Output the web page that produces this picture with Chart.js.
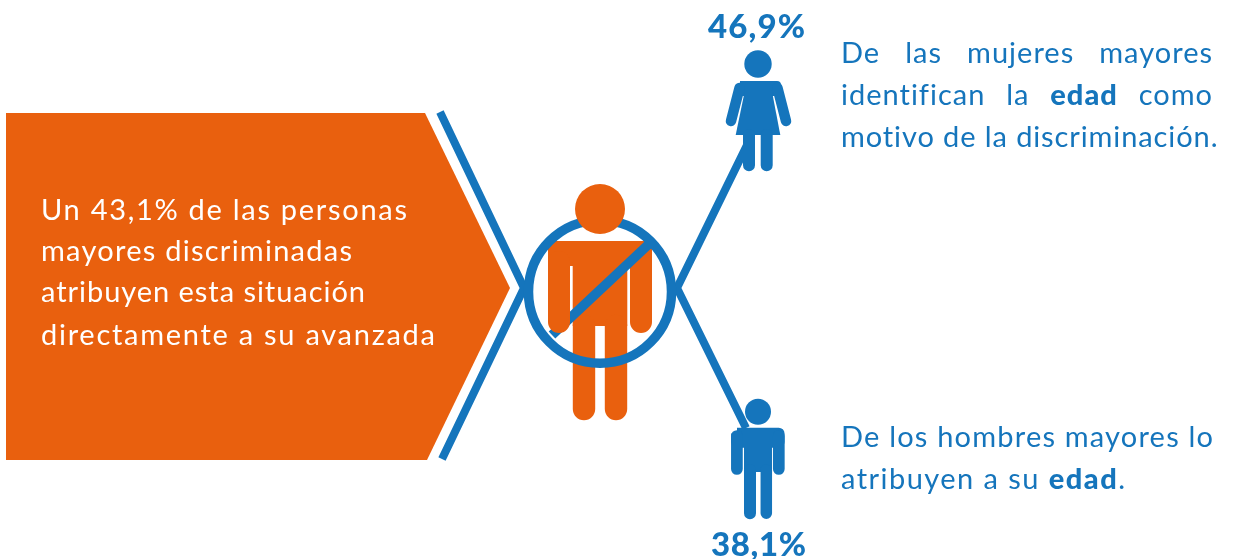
<!DOCTYPE html>
<html lang="es">
<head>
<meta charset="utf-8">
<title>Discriminación por edad</title>
<script src="https://cdn.jsdelivr.net/npm/chart.js@4"></script>
<style>
html,body{margin:0;padding:0;background:#fff;overflow:hidden}
#wrap{position:relative;width:1233px;height:559px}
#c{position:absolute;left:0;top:0}
.t{position:absolute;font-family:Lato,sans-serif;white-space:nowrap;font-size:29px;line-height:42px;height:42px}
.j{white-space:normal;text-align:justify;text-align-last:justify;letter-spacing:1px}
b{font-weight:900}
.p{font-weight:900;font-size:33px}
</style>
</head>
<body>
<div id="wrap"><canvas id="c" width="1233" height="559"></canvas></div>
<script>
// ---- data
const shareAll = 43.1;
const shareWomen = 46.9;
const shareMen = 38.1;
const pct = v => v.toFixed(1).replace('.', ',') + '%';

const leftLines = ['Un ' + pct(shareAll) + ' de las personas', 'mayores discriminadas', 'atribuyen esta situación', 'directamente a su avanzada'];
const womenLines = ['De las mujeres mayores', 'identifican la <b>edad</b> como', 'motivo de la discriminación.'];
const menLines = ['De los hombres mayores lo', 'atribuyen a su <b>edad</b>.'];

// ---- palette
const BLUE = '#1575bc', ORANGE = '#e9600e';

// ---- pictogram geometry, in the chart's own axis units
const ds = [];
const P = (x, y) => ({x, y});
function stroke(pts, color, w, cap) {
  ds.push({data: pts, showLine: true, borderColor: color, borderWidth: w, borderCapStyle: cap || 'round',
    borderJoinStyle: 'round', pointRadius: 0, fill: false, tension: 0, clip: false});
}
function shape(pts, color, w) {
  ds.push({data: pts.concat([pts[0]]), showLine: true, borderColor: color, borderWidth: w || 0, borderJoinStyle: 'round',
    backgroundColor: color, pointRadius: 0, fill: 'shape', tension: 0, clip: false});
}
function dot(x, y, r, fillColor, borderColor, bw) {
  ds.push({data: [P(x, y)], showLine: false, pointRadius: r, pointHoverRadius: r, pointBackgroundColor: fillColor,
    pointBorderColor: borderColor || fillColor, pointBorderWidth: bw || 0, clip: false});
}

// orange chevron
shape([P(6,113), P(425,113), P(510,288), P(427,460), P(6,460)], ORANGE);
// blue crossing lines
stroke([P(440,112), P(524,288), P(442,459)], BLUE, 8, 'butt');
stroke([P(749,141), P(677,288), P(746,428)], BLUE, 8, 'butt');

// central figure
shape([P(552,245), P(648,245), P(648,262), P(552,262)], ORANGE, 8);      // shoulders
shape([P(572.7,262), P(627.3,262), P(627.3,326), P(572.7,326)], ORANGE); // torso
stroke([P(584,326), P(584,409)], ORANGE, 22.4);                          // leg
stroke([P(616,326), P(616,409)], ORANGE, 22.4);                          // leg
stroke([P(641,262), P(641,322)], ORANGE, 22);                            // right arm
stroke([P(650,243), P(552,335)], BLUE, 9.5, 'butt');                     // slash
stroke([P(559,262), P(559,322)], ORANGE, 22);                            // left arm
dot(600, 291.7, 71.5, 'rgba(0,0,0,0)', BLUE, 9.5);                       // ring
dot(600, 209, 25, ORANGE);                                               // head

// woman
dot(758, 64, 13.7, BLUE);
shape([P(740,85), P(777,85), P(777,92), P(740,92)], BLUE, 8);
shape([P(745,90), P(771.7,90), P(780.3,135), P(735.7,135)], BLUE);
stroke([P(739.5,88), P(731,121)], BLUE, 10.5);
stroke([P(777.5,88), P(786,121)], BLUE, 10.5);
stroke([P(749,135), P(749,165.3)], BLUE, 12);
stroke([P(766.7,135), P(766.7,165.3)], BLUE, 12);

// man
dot(758, 411.7, 13, BLUE);
shape([P(737,433.5), P(778.7,433.5), P(778.7,442), P(737,442)], BLUE, 11.7);
shape([P(744,440), P(772,440), P(772,472), P(744,472)], BLUE);
stroke([P(736.9,436), P(736.9,469)], BLUE, 11.7);
stroke([P(778.8,436), P(778.8,469)], BLUE, 11.7);
stroke([P(750,470), P(750,513.3)], BLUE, 12);
stroke([P(766.3,470), P(766.3,513.3)], BLUE, 11.5);

// later entries paint on top
ds.forEach((d, i) => { d.order = -i; });

new Chart(document.getElementById('c'), {
  type: 'scatter',
  data: {datasets: ds},
  options: {
    responsive: false, animation: false, events: [],
    layout: {padding: 0, autoPadding: false},
    plugins: {legend: {display: false}, tooltip: {enabled: false}},
    scales: {
      x: {type: 'linear', min: 0, max: 1233, display: false},
      y: {type: 'linear', min: 0, max: 559, reverse: true, display: false}
    }
  }
});

// ---- text
const wrap = document.getElementById('wrap');
function place(html, x, cy, width, color, cls) {
  const el = document.createElement('div');
  el.className = 't ' + (cls || '');
  el.innerHTML = html;
  el.style.left = x + 'px';
  el.style.top = (cy - 21) + 'px';
  el.style.color = color;
  wrap.appendChild(el);
  // stretch tracking so that the line spans the measured width
  const n = el.textContent.length - 1;
  const natural = el.getBoundingClientRect().width;
  el.style.letterSpacing = ((width - natural) / n) + 'px';
}
function placeJustified(html, x, cy, width, color) {
  const el = document.createElement('div');
  el.className = 't j';
  el.innerHTML = html;
  el.style.left = x + 'px';
  el.style.top = (cy - 21) + 'px';
  el.style.width = width + 'px';
  el.style.color = color;
  wrap.appendChild(el);
}
const leftW = [366, 311, 324, 394];
const leftY = [209, 250, 291, 334];
leftLines.forEach((s, i) => place(s, 41, leftY[i], leftW[i], '#fff'));

placeJustified(womenLines[0], 841, 52, 372, BLUE);
placeJustified(womenLines[1], 841, 94, 372, BLUE);
place(womenLines[2], 841, 136, 377, BLUE);
place(menLines[0], 841, 436, 372, BLUE);
place(menLines[1], 841, 478, 284, BLUE);

place(pct(shareWomen), 708, 25, 97, BLUE, 'p');
place(pct(shareMen), 711, 543, 95, BLUE, 'p');
</script>
</body>
</html>
